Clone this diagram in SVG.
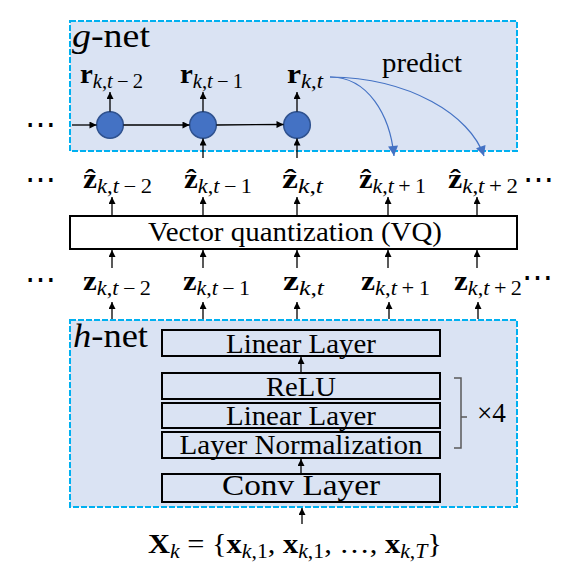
<svg xmlns="http://www.w3.org/2000/svg" width="583" height="574" viewBox="0 0 583 574">
<defs>
<style>
.bg{fill:#DAE3F3;stroke:#00B0F0;stroke-width:2;stroke-dasharray:6 2}
.lay{fill:none;stroke:#000;stroke-width:2}
.vq{fill:#fff;stroke:#000;stroke-width:2}
.nd{fill:#4472C4;stroke:#2F528F;stroke-width:1.5}
.t{font-family:"Liberation Serif","DejaVu Serif",serif;fill:#000}
.b{font-weight:bold}
.i{font-style:italic}
.s{font-size:20px}
.dots{font-family:"DejaVu Serif",serif;font-size:31px;fill:#000}
.cn{stroke:#000;stroke-width:1.3;fill:none;marker-end:url(#ah)}
.pr{stroke:#4472C4;stroke-width:1.2;fill:none;marker-end:url(#bh)}
</style>
<marker id="ah" viewBox="0 0 10 10" refX="10" refY="5" markerWidth="8" markerHeight="7" markerUnits="userSpaceOnUse" orient="auto"><path d="M0,0L10,5L0,10z" fill="#000"/></marker>
<marker id="bh" viewBox="0 0 10 10" refX="10" refY="5" markerWidth="12" markerHeight="10" markerUnits="userSpaceOnUse" orient="auto"><path d="M0,0L10,5L0,10z" fill="#4472C4"/></marker>
</defs>

<g id="g-net">
<rect class="bg" x="70" y="21" width="447" height="130"/>
<text class="t" x="72" y="47" font-size="34" textLength="78" lengthAdjust="spacingAndGlyphs"><tspan class="i">g</tspan>-net</text>
</g>

<g id="h-net">
<rect class="bg" x="70" y="320" width="447" height="187"/>
<text class="t" x="73" y="347" font-size="34" textLength="75" lengthAdjust="spacingAndGlyphs"><tspan class="i">h</tspan>-net</text>
</g>

<g id="r1"><circle class="nd" cx="110" cy="125" r="13.3"/></g>
<g id="r2"><circle class="nd" cx="203" cy="125" r="13.3"/></g>
<g id="r3"><circle class="nd" cx="297" cy="125" r="13.3"/></g>

<g id="r-labels" class="t" font-size="28">
<text x="80" y="83" textLength="63" lengthAdjust="spacingAndGlyphs"><tspan class="b">r</tspan><tspan class="s" dy="5"><tspan class="i">k</tspan>,<tspan class="i">t</tspan>&#8201;−&#8201;2</tspan></text>
<text x="180" y="83" textLength="63" lengthAdjust="spacingAndGlyphs"><tspan class="b">r</tspan><tspan class="s" dy="5"><tspan class="i">k</tspan>,<tspan class="i">t</tspan>&#8201;−&#8201;1</tspan></text>
<text x="287" y="83" textLength="36" lengthAdjust="spacingAndGlyphs"><tspan class="b">r</tspan><tspan class="s" dy="5"><tspan class="i">k</tspan>,<tspan class="i">t</tspan></tspan></text>
</g>

<g id="predict-label"><text class="t" x="382" y="72" font-size="27" textLength="80" lengthAdjust="spacingAndGlyphs">predict</text></g>

<g id="dots">
<text class="dots" x="25" y="135">⋯</text>
<text class="dots" x="25" y="190">⋯</text>
<text class="dots" x="523" y="190">⋯</text>
<text class="dots" x="25" y="290">⋯</text>
<text class="dots" x="522" y="288">⋯</text>
</g>

<g id="zhat-labels" class="t" font-size="28">
<text x="83" y="188" textLength="69" lengthAdjust="spacingAndGlyphs"><tspan class="b">ẑ</tspan><tspan class="s" dy="5"><tspan class="i">k</tspan>,<tspan class="i">t</tspan>&#8201;−&#8201;2</tspan></text>
<text x="184" y="188" textLength="68" lengthAdjust="spacingAndGlyphs"><tspan class="b">ẑ</tspan><tspan class="s" dy="5"><tspan class="i">k</tspan>,<tspan class="i">t</tspan>&#8201;−&#8201;1</tspan></text>
<text x="282" y="188" textLength="41" lengthAdjust="spacingAndGlyphs"><tspan class="b">ẑ</tspan><tspan class="s" dy="5"><tspan class="i">k</tspan>,<tspan class="i">t</tspan></tspan></text>
<text x="359" y="188" textLength="67" lengthAdjust="spacingAndGlyphs"><tspan class="b">ẑ</tspan><tspan class="s" dy="5"><tspan class="i">k</tspan>,<tspan class="i">t</tspan>&#8201;+&#8201;1</tspan></text>
<text x="448" y="188" textLength="70" lengthAdjust="spacingAndGlyphs"><tspan class="b">ẑ</tspan><tspan class="s" dy="5"><tspan class="i">k</tspan>,<tspan class="i">t</tspan>&#8201;+&#8201;2</tspan></text>
</g>

<g id="vq">
<rect class="vq" x="70" y="216" width="447" height="33"/>
<text class="t" x="295" y="241" font-size="27" text-anchor="middle" textLength="294" lengthAdjust="spacingAndGlyphs">Vector quantization (VQ)</text>
</g>

<g id="z-labels" class="t" font-size="28">
<text x="83" y="290" textLength="68" lengthAdjust="spacingAndGlyphs"><tspan class="b">z</tspan><tspan class="s" dy="5"><tspan class="i">k</tspan>,<tspan class="i">t</tspan>&#8201;−&#8201;2</tspan></text>
<text x="183" y="290" textLength="67" lengthAdjust="spacingAndGlyphs"><tspan class="b">z</tspan><tspan class="s" dy="5"><tspan class="i">k</tspan>,<tspan class="i">t</tspan>&#8201;−&#8201;1</tspan></text>
<text x="283" y="290" textLength="41" lengthAdjust="spacingAndGlyphs"><tspan class="b">z</tspan><tspan class="s" dy="5"><tspan class="i">k</tspan>,<tspan class="i">t</tspan></tspan></text>
<text x="361" y="290" textLength="69" lengthAdjust="spacingAndGlyphs"><tspan class="b">z</tspan><tspan class="s" dy="5"><tspan class="i">k</tspan>,<tspan class="i">t</tspan>&#8201;+&#8201;1</tspan></text>
<text x="454" y="290" textLength="68" lengthAdjust="spacingAndGlyphs"><tspan class="b">z</tspan><tspan class="s" dy="5"><tspan class="i">k</tspan>,<tspan class="i">t</tspan>&#8201;+&#8201;2</tspan></text>
</g>

<g id="linear-out">
<rect class="lay" x="162" y="330" width="278" height="26"/>
<text class="t" x="301" y="353" font-size="28" text-anchor="middle" textLength="150" lengthAdjust="spacingAndGlyphs">Linear Layer</text>
</g>
<g id="relu">
<rect class="lay" x="162" y="373" width="278" height="26"/>
<text class="t" x="301" y="396" font-size="27" text-anchor="middle" textLength="70" lengthAdjust="spacingAndGlyphs">ReLU</text>
</g>
<g id="linear">
<rect class="lay" x="162" y="403" width="278" height="25"/>
<text class="t" x="301" y="425" font-size="28" text-anchor="middle" textLength="150" lengthAdjust="spacingAndGlyphs">Linear Layer</text>
</g>
<g id="layernorm">
<rect class="lay" x="162" y="432" width="278" height="26"/>
<text class="t" x="301" y="454" font-size="28" text-anchor="middle" textLength="243" lengthAdjust="spacingAndGlyphs">Layer Normalization</text>
</g>
<g id="conv">
<rect class="lay" x="162" y="474" width="278" height="28"/>
<text class="t" x="301" y="495" font-size="30" text-anchor="middle" textLength="158" lengthAdjust="spacingAndGlyphs">Conv Layer</text>
</g>

<g id="repeat">
<path d="M454,378H461V448H454M461,417H467" fill="none" stroke="#595959" stroke-width="1.5"/>
<text class="t" x="477" y="422" font-size="27" fill="#262626" textLength="29" lengthAdjust="spacingAndGlyphs">×4</text>
</g>

<g id="input">
<text class="t" x="148" y="553" font-size="28" textLength="294" lengthAdjust="spacingAndGlyphs"><tspan class="b">X</tspan><tspan class="s i" dy="5">k</tspan><tspan dy="-5"> = {</tspan><tspan class="b">x</tspan><tspan class="s" dy="5"><tspan class="i">k</tspan>,1</tspan><tspan dy="-5">, </tspan><tspan class="b">x</tspan><tspan class="s" dy="5"><tspan class="i">k</tspan>,1</tspan><tspan dy="-5">, …, </tspan><tspan class="b">x</tspan><tspan class="s" dy="5"><tspan class="i">k</tspan>,<tspan class="i">T</tspan></tspan><tspan dy="-5">}</tspan></text>
</g>

<g id="connectors">
<line class="cn" x1="72" y1="125" x2="96.5" y2="125"/>
<line class="cn" x1="123.5" y1="125" x2="189.5" y2="125"/>
<line class="cn" x1="216.5" y1="125" x2="283.5" y2="124.5" stroke="#404040"/>
<line class="cn" x1="110" y1="111.5" x2="110" y2="92"/>
<line class="cn" x1="203" y1="111.5" x2="203" y2="92"/>
<line class="cn" x1="297" y1="111.5" x2="297" y2="92"/>
<line class="cn" x1="203" y1="158" x2="203" y2="138.5"/>
<line class="cn" x1="297" y1="158" x2="297" y2="138.5"/>
<path class="pr" d="M330,77C368,77 390,115 394,156"/>
<path class="pr" d="M330,77C410,78 470,115 484,156"/>
<line class="cn" x1="112" y1="216" x2="112" y2="197"/>
<line class="cn" x1="203" y1="216" x2="203" y2="197"/>
<line class="cn" x1="297" y1="216" x2="297" y2="197"/>
<line class="cn" x1="388" y1="216" x2="388" y2="197"/>
<line class="cn" x1="477" y1="216" x2="477" y2="197"/>
<line class="cn" x1="112" y1="268" x2="112" y2="250"/>
<line class="cn" x1="203" y1="268" x2="203" y2="250"/>
<line class="cn" x1="297" y1="268" x2="297" y2="250"/>
<line class="cn" x1="388" y1="268" x2="388" y2="250"/>
<line class="cn" x1="477" y1="268" x2="477" y2="250"/>
<line class="cn" x1="112" y1="319" x2="112" y2="302"/>
<line class="cn" x1="203" y1="319" x2="203" y2="302"/>
<line class="cn" x1="297" y1="319" x2="297" y2="302"/>
<line class="cn" x1="389" y1="319" x2="389" y2="302"/>
<line class="cn" x1="478" y1="319" x2="478" y2="302"/>
<line class="cn" x1="301" y1="373" x2="301" y2="357"/>
<line class="cn" x1="301" y1="474" x2="301" y2="459"/>
<line class="cn" x1="302" y1="524" x2="302" y2="508"/>
</g>
</svg>
